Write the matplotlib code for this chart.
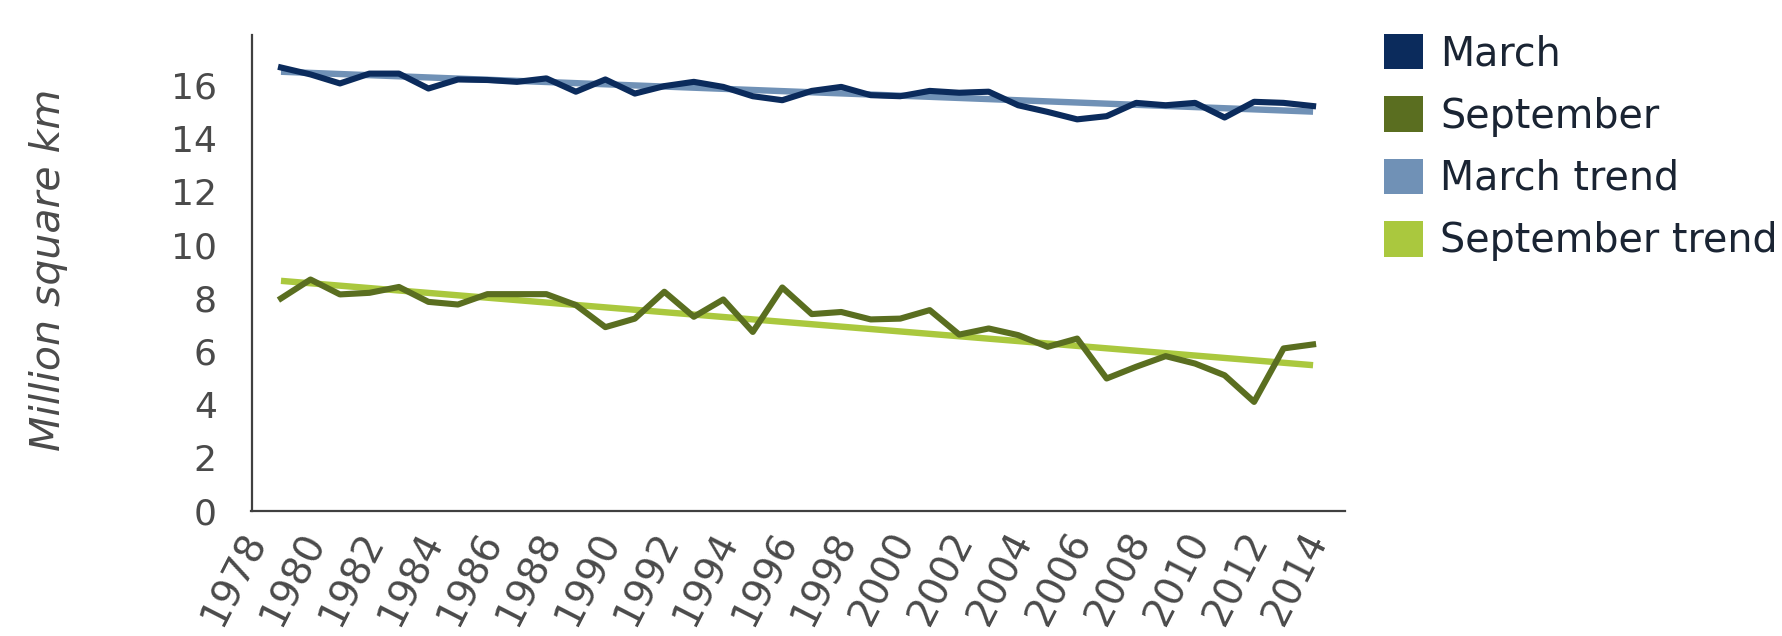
import matplotlib
matplotlib.use("Agg")
import matplotlib.pyplot as plt
from matplotlib.patches import Patch
from matplotlib.transforms import ScaledTranslation

years = list(range(1979, 2015))
march = [16.66, 16.40, 16.06, 16.43, 16.43, 15.87, 16.21, 16.19, 16.12, 16.25,
         15.75, 16.21, 15.68, 15.96, 16.12, 15.93, 15.58, 15.43, 15.78, 15.93,
         15.62, 15.58, 15.78, 15.71, 15.75, 15.24, 14.99, 14.71, 14.83, 15.33,
         15.24, 15.33, 14.78, 15.37, 15.33, 15.21]
september = [7.98, 8.69, 8.13, 8.19, 8.41, 7.85, 7.75, 8.14, 8.14, 8.14,
             7.73, 6.90, 7.22, 8.23, 7.29, 7.94, 6.72, 8.39, 7.39, 7.47,
             7.19, 7.22, 7.54, 6.62, 6.85, 6.60, 6.16, 6.47, 4.97, 5.41,
             5.81, 5.53, 5.09, 4.09, 6.10, 6.25]
trend_years = [1979, 2014]
march_trend = [16.50, 15.00]
september_trend = [8.64, 5.47]

series_names = ["March", "September", "March trend", "September trend"]
colors = ["#0b2b5c", "#5a6e20", "#7091b6", "#aac83e"]
x_ticks = list(range(1978, 2015, 2))
y_ticks = list(range(0, 17, 2))

W, H = 1782, 636
fig = plt.figure(figsize=(W / 100, H / 100), dpi=100)
ax = fig.add_axes([251.5 / W, 1 - 510.7 / H, (1345.5 - 251.5) / W, (510.7 - 34.5) / H])

ax.plot(trend_years, march_trend, color=colors[2], lw=4.6, solid_capstyle="butt", zorder=2)
ax.plot(years, march, color=colors[0], lw=4.4, solid_joinstyle="round", zorder=3)
ax.plot(trend_years, september_trend, color=colors[3], lw=4.6, solid_capstyle="butt", zorder=2)
ax.plot(years, september, color=colors[1], lw=4.4, solid_joinstyle="round", zorder=3)

ax.set_xlim(1978, 2015.1)
ax.set_ylim(0, 17.9)
ax.set_xticks(x_ticks)
ax.set_yticks(y_ticks)
ax.set_xticklabels([str(t) for t in x_ticks], rotation=63, ha="right", va="center",
                   rotation_mode="anchor")
ax.tick_params(axis="both", length=0, labelcolor="#4a4a4a")
ax.tick_params(axis="y", pad=25, labelsize=26)
ax.tick_params(axis="x", pad=17, labelsize=28)
offset = ScaledTranslation(5 / 100, 0, fig.dpi_scale_trans)
for lab in ax.get_xticklabels():
    lab.set_transform(lab.get_transform() + offset)

for s in ["top", "right"]:
    ax.spines[s].set_visible(False)
for s in ["left", "bottom"]:
    ax.spines[s].set_color("#404040")
    ax.spines[s].set_linewidth(1.6)

fig.text(49 / W, 1 - 270 / H, "Million square km", rotation=90, style="italic",
         fontsize=29.5, color="#4a4a4a", ha="center", va="center")

handles = [Patch(facecolor=c, edgecolor="none") for c in colors]
fig.legend(handles, series_names, loc="upper left", bbox_to_anchor=(1368 / W, 1 - 18 / H),
           frameon=False, fontsize=28.5, handlelength=1.0, handleheight=1.0,
           handletextpad=0.43, labelspacing=0.56, labelcolor="#1a2433", borderaxespad=0)

fig.savefig("out.png", dpi=100, facecolor="white")
